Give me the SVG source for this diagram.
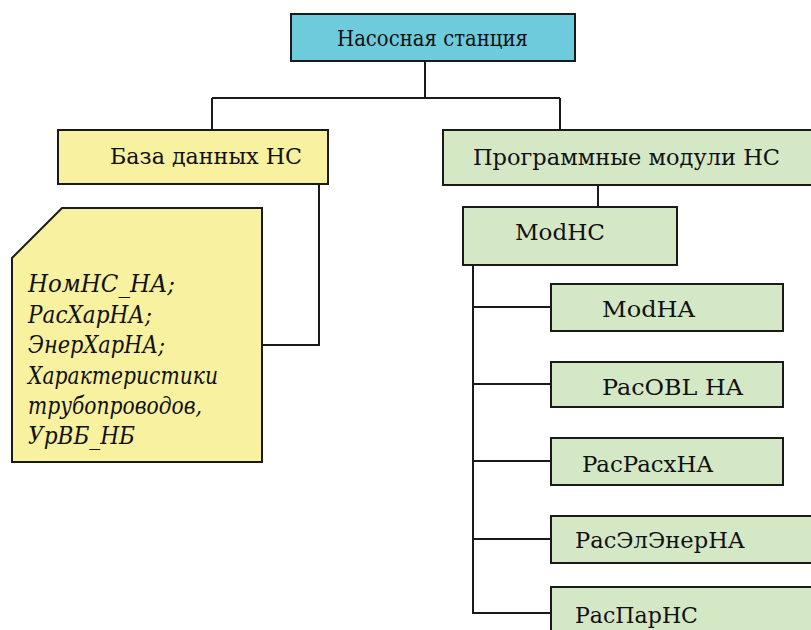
<svg xmlns="http://www.w3.org/2000/svg" width="811" height="630" viewBox="0 0 811 630">
<style>
.box{stroke:#1a1a1a;stroke-width:2}
.cyan{fill:#6dcbdc}
.yellow{fill:#f8f19f}
.green{fill:#d5e8c6}
.t{font-family:'DejaVu Serif',serif;font-size:23px;fill:#111}
.it{font-style:italic;font-size:24px}
.conn{fill:none;stroke:#1a1a1a;stroke-width:2}
</style>
<rect width="811" height="630" fill="#ffffff"/>
<g id="connectors">
<path class="conn" d="M425 61V98M212 98H560M212 98V130M560 98V130"/>
<path class="conn" d="M319 184V345H262"/>
<path class="conn" d="M598 185V207"/>
<path class="conn" d="M473 265V613H551M473 307H551M473 384H551M473 461H551M473 539H551"/>
</g>
<g id="n-station">
<rect class="box cyan" x="291" y="14" width="284" height="47"/>
<text class="t" x="337" y="46" textLength="191" lengthAdjust="spacingAndGlyphs">Насосная станция</text>
</g>
<g id="n-db">
<rect class="box yellow" x="58" y="130" width="270" height="54"/>
<text class="t" x="110" y="164" textLength="192" lengthAdjust="spacingAndGlyphs">База данных НС</text>
</g>
<g id="n-dbnote">
<path class="box yellow" d="M62 208H262V462H12V258Z"/>
<text class="t it" x="28" y="292" textLength="147" lengthAdjust="spacingAndGlyphs">НомНС_НА;</text>
<text class="t it" x="28" y="323" textLength="124" lengthAdjust="spacingAndGlyphs">РасХарНА;</text>
<text class="t it" x="28" y="353" textLength="137" lengthAdjust="spacingAndGlyphs">ЭнерХарНА;</text>
<text class="t it" x="28" y="384" textLength="190" lengthAdjust="spacingAndGlyphs">Характеристики</text>
<text class="t it" x="28" y="414" textLength="174" lengthAdjust="spacingAndGlyphs">трубопроводов,</text>
<text class="t it" x="28" y="444" textLength="107" lengthAdjust="spacingAndGlyphs">УрВБ_НБ</text>
</g>
<g id="n-modules">
<rect class="box green" x="443" y="130" width="370" height="55"/>
<text class="t" x="473" y="165" textLength="307" lengthAdjust="spacingAndGlyphs">Программные модули НС</text>
</g>
<g id="n-modhc">
<rect class="box green" x="463" y="207" width="214" height="58"/>
<text class="t" x="515" y="240" textLength="90" lengthAdjust="spacingAndGlyphs">ModHC</text>
</g>
<g id="n-modha">
<rect class="box green" x="551" y="284" width="232" height="47"/>
<text class="t" x="602" y="317" textLength="93" lengthAdjust="spacingAndGlyphs">ModHA</text>
</g>
<g id="n-pacobl">
<rect class="box green" x="551" y="362" width="232" height="45"/>
<text class="t" x="602" y="395" textLength="141" lengthAdjust="spacingAndGlyphs">PacOBL HA</text>
</g>
<g id="n-pacpacx">
<rect class="box green" x="551" y="438" width="232" height="47"/>
<text class="t" x="582" y="472" textLength="131" lengthAdjust="spacingAndGlyphs">PacPacxHA</text>
</g>
<g id="n-raselener">
<rect class="box green" x="551" y="516" width="262" height="47"/>
<text class="t" x="575" y="548" textLength="170" lengthAdjust="spacingAndGlyphs">РасЭлЭнерНА</text>
</g>
<g id="n-rasparns">
<rect class="box green" x="551" y="587" width="262" height="60"/>
<text class="t" x="575" y="623" textLength="123" lengthAdjust="spacingAndGlyphs">РасПарНС</text>
</g>
</svg>
